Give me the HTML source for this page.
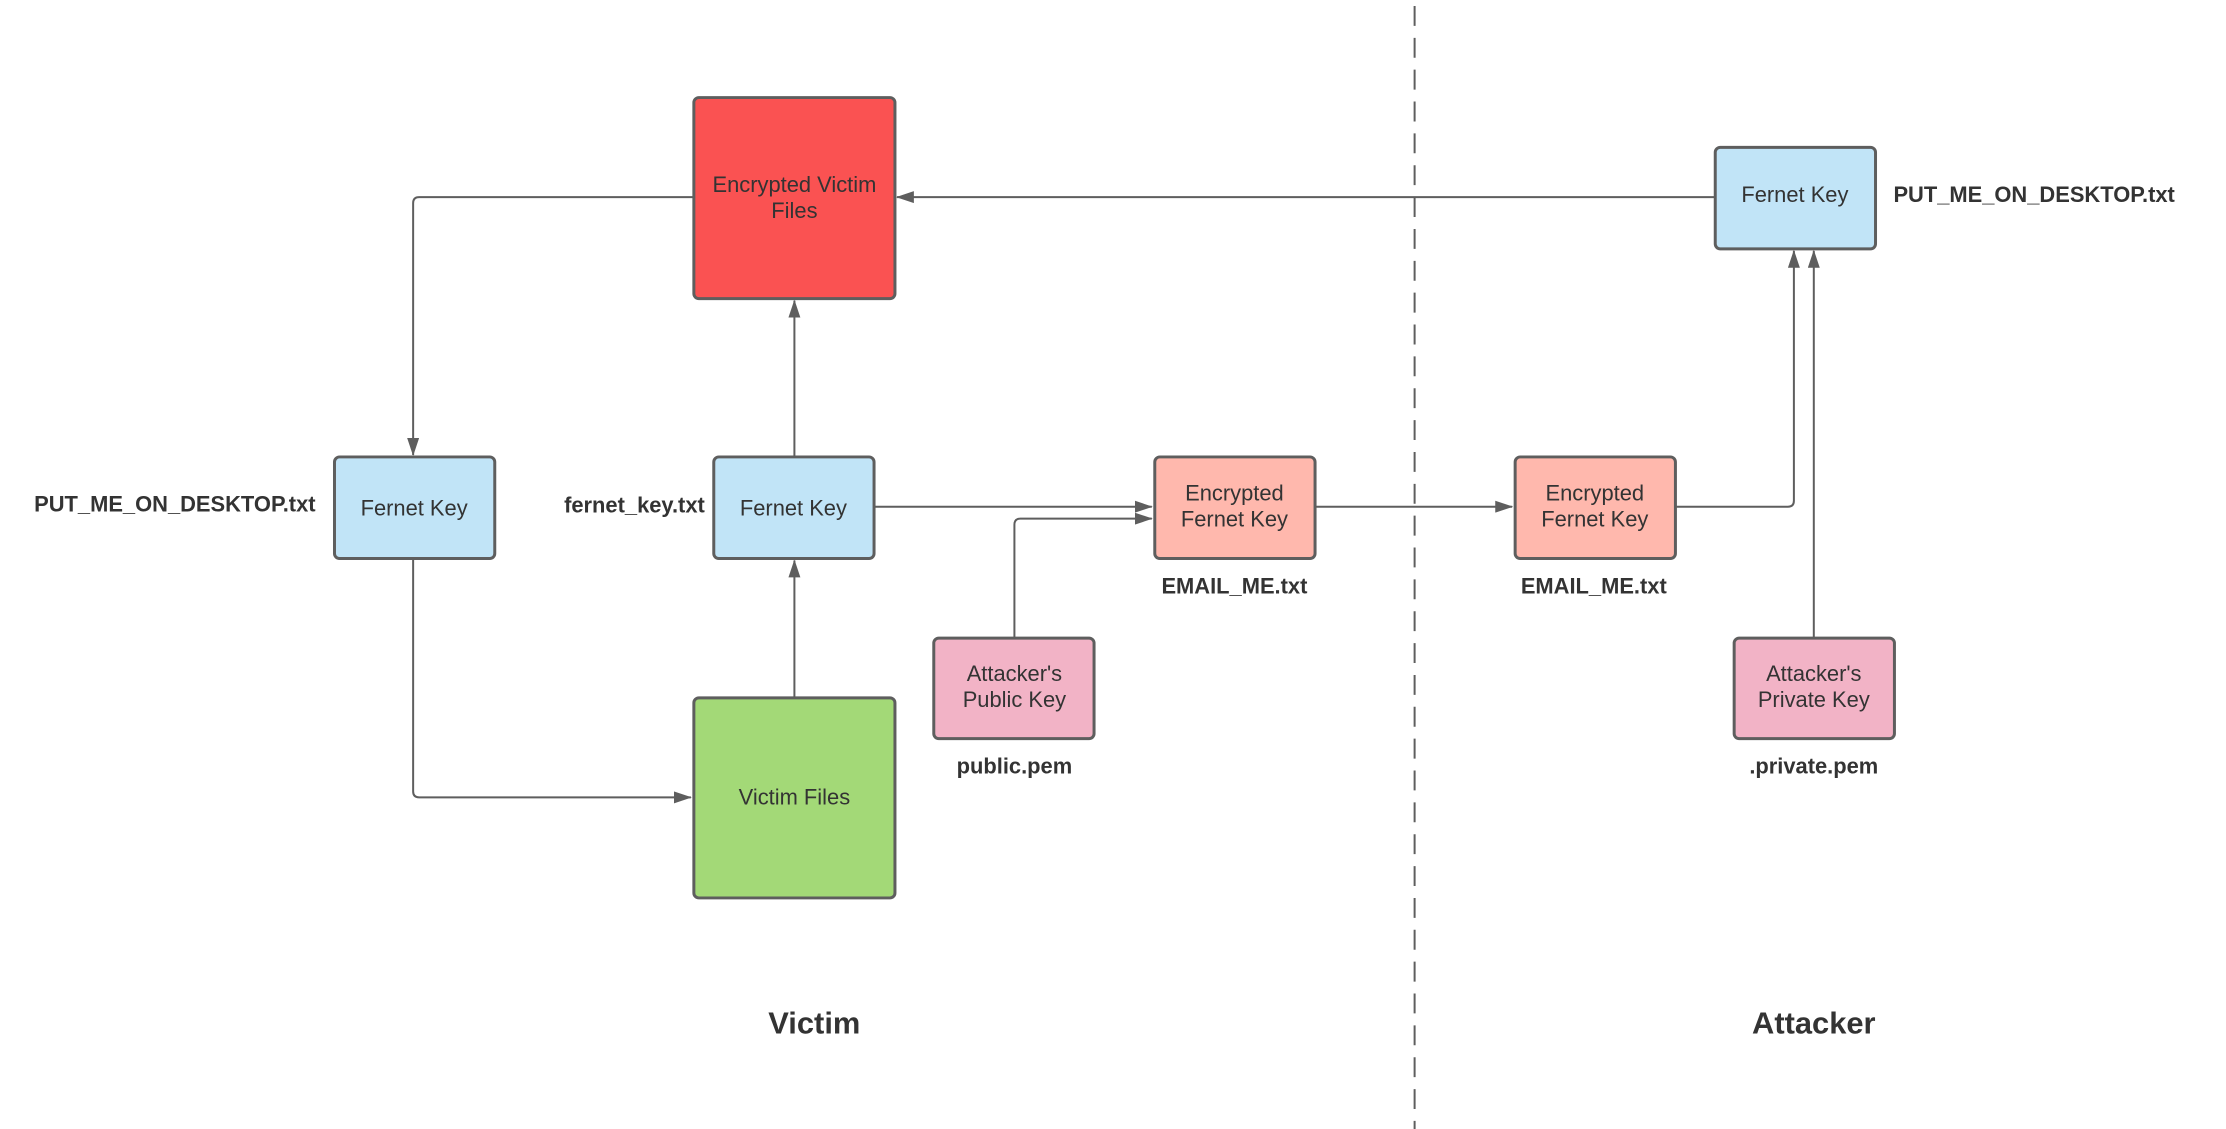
<!DOCTYPE html>
<html><head><meta charset="utf-8"><style>html,body{margin:0;padding:0;background:#fff}svg{display:block}</style></head>
<body>
<svg width="2226" height="1129" viewBox="0 0 2226 1129" xmlns="http://www.w3.org/2000/svg" font-family="Liberation Sans, sans-serif">
<defs>
<marker id="b" markerWidth="18" markerHeight="12" refX="17" refY="6" orient="auto" markerUnits="userSpaceOnUse">
<path d="M0,0 L18,6 L0,12 Z" fill="#5e5e5e"/></marker>
</defs>
<g transform="scale(0.9955)">
<line x1="1421" y1="6" x2="1421" y2="1140" stroke="#5e5e5e" stroke-width="2" stroke-dasharray="20,12"/>
<g fill="none" stroke="#5e5e5e" stroke-width="2">
<path d="M696,198 H421 Q415,198 415,204 V457" marker-end="url(#b)"/>
<path d="M415,561 V795 Q415,801 421,801 H694" marker-end="url(#b)"/>
<path d="M798,701 V563" marker-end="url(#b)"/>
<path d="M798,459 V302" marker-end="url(#b)"/>
<path d="M878,509 H1157" marker-end="url(#b)"/>
<path d="M1019,641 V527 Q1019,521 1025,521 H1157" marker-end="url(#b)"/>
<path d="M1321,509 H1519" marker-end="url(#b)"/>
<path d="M1684,509 H1796 Q1802,509 1802,503 V252" marker-end="url(#b)"/>
<path d="M1822,641 V252" marker-end="url(#b)"/>
<path d="M1722,198 H901" marker-end="url(#b)"/>
</g>
<g stroke="#5e5e5e" stroke-width="3">
<rect x="697" y="98" width="202" height="202" rx="5" fill="#fa5252"/>
<rect x="336" y="459" width="161" height="102" rx="5" fill="#c1e4f7"/>
<rect x="717" y="459" width="161" height="102" rx="5" fill="#c1e4f7"/>
<rect x="697" y="701" width="202" height="201" rx="5" fill="#a3d977"/>
<rect x="1160" y="459" width="161" height="102" rx="5" fill="#ffb8ad"/>
<rect x="1522" y="459" width="161" height="102" rx="5" fill="#ffb8ad"/>
<rect x="1723" y="148" width="161" height="102" rx="5" fill="#c1e4f7"/>
<rect x="938" y="641" width="161" height="101" rx="5" fill="#f2b3c6"/>
<rect x="1742" y="641" width="161" height="101" rx="5" fill="#f2b3c6"/>
</g>
<g fill="#333" font-size="22" text-anchor="middle">
<text x="798" y="193">Encrypted Victim</text><text x="798" y="219">Files</text>
<text x="416" y="518">Fernet Key</text>
<text x="797" y="518">Fernet Key</text>
<text x="798" y="808">Victim Files</text>
<text x="1240" y="503">Encrypted</text><text x="1240" y="529">Fernet Key</text>
<text x="1602" y="503">Encrypted</text><text x="1602" y="529">Fernet Key</text>
<text x="1803" y="203">Fernet Key</text>
<text x="1019" y="684">Attacker's</text><text x="1019" y="710">Public Key</text>
<text x="1822" y="684">Attacker's</text><text x="1822" y="710">Private Key</text>
</g>
<g fill="#333" font-size="22" font-weight="bold">
<text x="317" y="514" text-anchor="end">PUT_ME_ON_DESKTOP.txt</text>
<text x="708" y="515" text-anchor="end">fernet_key.txt</text>
<text x="1240" y="596" text-anchor="middle">EMAIL_ME.txt</text>
<text x="1601" y="596" text-anchor="middle">EMAIL_ME.txt</text>
<text x="1019" y="777" text-anchor="middle">public.pem</text>
<text x="1822" y="777" text-anchor="middle">.private.pem</text>
<text x="1902" y="203">PUT_ME_ON_DESKTOP.txt</text>
<text x="818" y="1038" text-anchor="middle" font-size="31">Victim</text>
<text x="1822" y="1038" text-anchor="middle" font-size="31">Attacker</text>
</g>
</g>
</svg>
</body></html>
